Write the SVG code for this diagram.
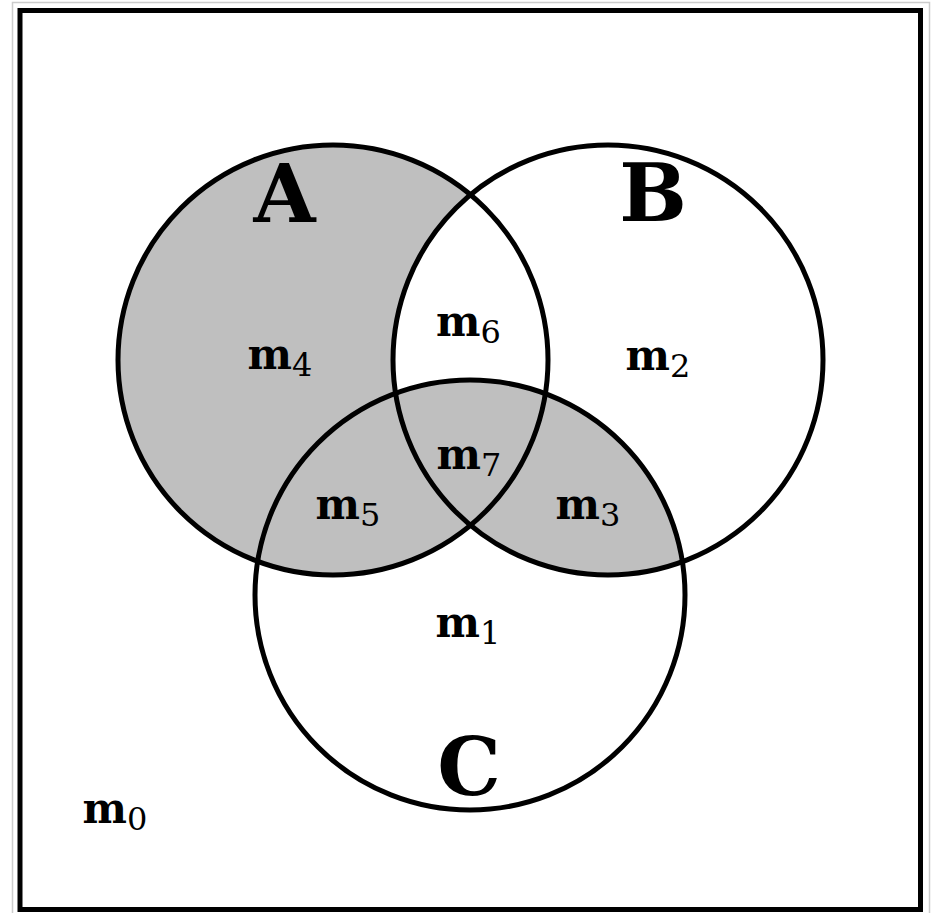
<svg xmlns="http://www.w3.org/2000/svg" width="933" height="913" viewBox="0 0 933 913">
  <defs>
    <clipPath id="clipB"><circle cx="608" cy="360" r="215"/></clipPath>
    <style>
      .ring { fill: none; stroke: #000; stroke-width: 5; }
      .set { font-family: "DejaVu Serif", "Liberation Serif", serif; font-weight: bold; font-size: 80px; fill: #000; text-anchor: middle; }
      .m { font-family: "DejaVu Serif", "Liberation Serif", serif; font-weight: bold; font-size: 42px; fill: #000; text-anchor: middle; }
      .sub { font-weight: normal; font-size: 32px; }
    </style>
  </defs>
  <rect x="0" y="0" width="933" height="913" fill="#ffffff"/>
  <rect x="12.5" y="2.5" width="917" height="916" fill="none" stroke="#cccccc" stroke-width="1.5"/>
  <rect x="20" y="10.5" width="900.5" height="899" fill="#ffffff" stroke="#000" stroke-width="5"/>

  <g id="shading">
    <circle cx="333" cy="360" r="215" fill="#bfbfbf"/>
    <circle cx="608" cy="360" r="215" fill="#ffffff"/>
    <circle cx="470" cy="595" r="215" fill="#bfbfbf" clip-path="url(#clipB)"/>
  </g>

  <g id="setA">
    <circle class="ring" cx="333" cy="360" r="215"/>
    <text class="set" x="284.5" y="222">A</text>
  </g>
  <g id="setB">
    <circle class="ring" cx="608" cy="360" r="215"/>
    <text class="set" x="653" y="221">B</text>
  </g>
  <g id="setC">
    <circle class="ring" cx="470" cy="595" r="215"/>
    <text class="set" x="469" y="795">C</text>
  </g>

  <g id="regions">
    <text class="m" x="280" y="369">m<tspan class="sub" dy="7">4</tspan></text>
    <text class="m" x="468.5" y="336">m<tspan class="sub" dy="7">6</tspan></text>
    <text class="m" x="658" y="370">m<tspan class="sub" dy="7">2</tspan></text>
    <text class="m" x="469" y="469">m<tspan class="sub" dy="7">7</tspan></text>
    <text class="m" x="348" y="519">m<tspan class="sub" dy="7">5</tspan></text>
    <text class="m" x="588" y="519">m<tspan class="sub" dy="7">3</tspan></text>
    <text class="m" x="468" y="637">m<tspan class="sub" dy="7">1</tspan></text>
    <text class="m" x="115" y="823">m<tspan class="sub" dy="7">0</tspan></text>
  </g>
</svg>
